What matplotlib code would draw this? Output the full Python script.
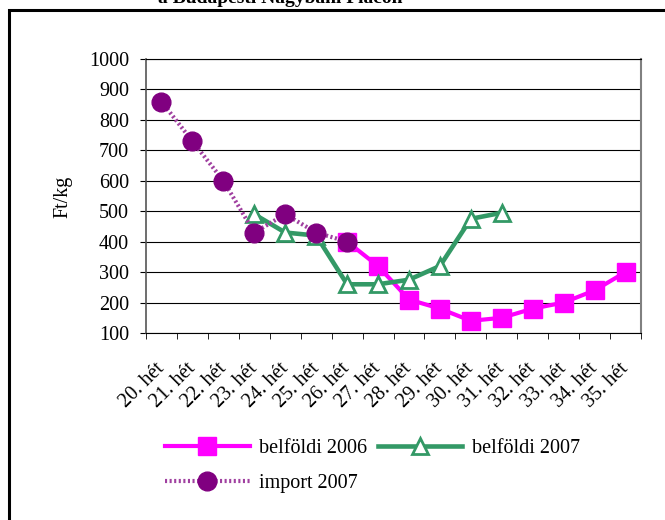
import numpy as np
import matplotlib.pyplot as plt
from matplotlib.patches import Rectangle

plt.rcParams['font.family'] = ['Liberation Serif', 'DejaVu Serif']

# adatok (Ft/kg), hetek szerint
weeks = ['20. hét', '21. hét', '22. hét', '23. hét', '24. hét', '25. hét',
         '26. hét', '27. hét', '28. hét', '29. hét', '30. hét', '31. hét',
         '32. hét', '33. hét', '34. hét', '35. hét']
nan = np.nan
belfoldi_2006 = [nan, nan, nan, nan, nan, nan, 400, 320, 210, 180, 140, 150, 180, 200, 240, 300]
belfoldi_2007 = [nan, nan, nan, 490, 430, 420, 260, 260, 275, 320, 475, 495, nan, nan, nan, nan]
import_2007 = [860, 730, 600, 430, 490, 430, 400, nan, nan, nan, nan, nan, nan, nan, nan, nan]

W, H = 665, 520
fs = 14.5
fig = plt.figure(figsize=(W / 100, H / 100), dpi=100)
ax = fig.add_axes([146 / W, 1 - 333 / H, (641 - 146) / W, (333 - 59) / H])

x = np.arange(len(weeks))
h1, = ax.plot(x, belfoldi_2006, color='#FF00FF', lw=3, marker='s', ms=13,
              label='belföldi 2006', zorder=3)
h2, = ax.plot(x, belfoldi_2007, color='#339966', lw=3.3, marker='^', ms=12,
              mfc='white', mec='#339966', mew=2, label='belföldi 2007', zorder=4)
h3, = ax.plot(x, import_2007, color='#A040A0', lw=3, ls=(0, (0.5, 0.6)),
              marker='o', ms=13.5, mfc='#800080', mec='#800080',
              label='import 2007', zorder=5)

ax.set_xlim(-0.5, 15.5)
ax.set_ylim(100, 1000)
ax.set_yticks(range(100, 1001, 100))
ax.yaxis.grid(True, color='black', lw=0.8)
ax.set_axisbelow(True)

# osztasok a kategoriak hataran, feliratok kozepen
ax.set_xticks(np.arange(-0.5, 16, 1), minor=True)
ax.set_xticks(x, weeks, rotation=45, ha='right', va='center', rotation_mode='anchor')
ax.tick_params(axis='x', which='minor', length=4.3, direction='out', color='black')
ax.tick_params(axis='x', which='major', length=0, pad=24, labelsize=fs)
ax.tick_params(axis='y', length=4.3, direction='out', pad=8, labelsize=fs, color='black')

ax.spines['left'].set_color('#555555')
ax.spines['left'].set_linewidth(1.2)
ax.spines['bottom'].set_color('black')
ax.spines['right'].set_color('#808080')
ax.spines['right'].set_linewidth(1.5)
ax.spines['top'].set_color('black')
ax.spines['top'].set_linewidth(0.8)

fig.text(63 / W, 1 - 197 / H, 'Ft/kg', rotation=90, ha='center', va='center', fontsize=fs)
fig.text(280 / W, 1 - 3 / H, 'a Budapesti Nagybani Piacon', ha='center', va='baseline',
         fontsize=14, fontweight='bold')

ax.legend([h1, h3, h2], ['belföldi 2006', 'import 2007', 'belföldi 2007'], ncol=2,
          loc='center left', bbox_to_anchor=(157 / W, 1 - 466 / H),
          bbox_transform=fig.transFigure, frameon=False, fontsize=fs,
          handlelength=4.2, handletextpad=0.45, columnspacing=0.55,
          labelspacing=0.75, borderaxespad=0, borderpad=0.4)

# kulso keret
fig.add_artist(Rectangle((8.5 / W, -0.1), 1.2, 1.1 - 10.5 / H, transform=fig.transFigure,
                         fill=False, lw=2.2, color='black'))

plt.savefig('out.png', dpi=100)
